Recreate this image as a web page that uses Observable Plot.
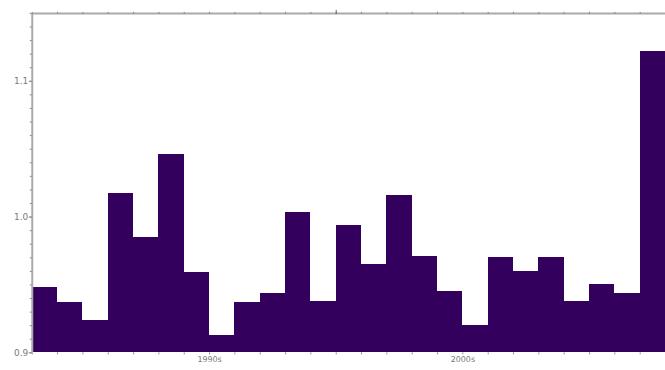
<!DOCTYPE html>
<html>
<head>
<meta charset="utf-8">
<script src="https://cdn.jsdelivr.net/npm/d3@7"></script>
<script src="https://cdn.jsdelivr.net/npm/@observablehq/plot@0.6"></script>
<style>
  html, body { margin: 0; padding: 0; background: #fff; overflow: hidden; width: 665px; height: 370px; }
  #chart svg { display: block; }
</style>
</head>
<body>
<div id="chart"></div>
<script>
const years = [1983, 1984, 1985, 1986, 1987, 1988, 1989, 1990, 1991, 1992, 1993, 1994, 1995,
               1996, 1997, 1998, 1999, 2000, 2001, 2002, 2003, 2004, 2005, 2006, 2007];
const values = [0.948, 0.937, 0.924, 1.017, 0.985, 1.046, 0.959, 0.913, 0.937, 0.944, 1.003, 0.938, 0.994,
                0.965, 1.016, 0.971, 0.945, 0.920, 0.970, 0.960, 0.970, 0.938, 0.950, 0.944, 1.122];
const yMajorTicks = [0.9, 1.0, 1.1];
const yMinorTicks = [0.9, 0.91, 0.92, 0.93, 0.94, 0.95, 0.96, 0.97, 0.98, 0.99, 1.0, 1.01, 1.02, 1.03,
                     1.04, 1.05, 1.06, 1.07, 1.08, 1.09, 1.1, 1.11, 1.12, 1.13, 1.14, 1.15];
const xLabelTicks = [1990, 2000];
const xLabels = ["1990s", "2000s"];
const xTopMajor = [1995];

const data = years.map((y, i) => ({year: y, value: values[i]}));
const yearEdges = years.concat([years[years.length - 1] + 1]);

const grey = "#aaaaaa";
const textGrey = "#777777";
const barColor = "#33005e";

const chart = Plot.plot({
  width: 670,
  height: 370,
  marginLeft: 32,
  marginRight: 0,
  marginTop: 13,
  marginBottom: 15,
  style: {fontFamily: "DejaVu Sans, sans-serif", fontSize: "8px", background: "#fff"},
  x: {domain: [1983, 2008], axis: null, label: null},
  y: {domain: [0.9, 1.15], axis: null, label: null},
  marks: [
    Plot.rect(data, {x1: "year", x2: d => d.year + 1, y1: 0.9, y2: "value",
                     fill: barColor, shapeRendering: "crispEdges"}),
    // left spine and minor ticks
    Plot.ruleX([1983], {stroke: grey, strokeWidth: 2}),
    Plot.axisY({ticks: yMinorTicks, tickSize: 2, tickFormat: () => "", stroke: "#888", label: null}),
    Plot.axisY({ticks: yMajorTicks, tickSize: 3, tickPadding: 1, tickFormat: d => d.toFixed(1),
                fill: textGrey, stroke: "#888", fontSize: 9, label: null}),
    // top spine and ticks
    Plot.ruleY([1.15], {stroke: grey, strokeWidth: 2}),
    Plot.axisX({anchor: "top", ticks: yearEdges, tickSize: 2, tickFormat: () => "", stroke: "#888", label: null}),
    Plot.axisX({anchor: "top", ticks: xTopMajor, tickSize: 4, tickFormat: () => "", stroke: "#666", label: null}),
    // bottom ticks and labels
    Plot.axisX({anchor: "bottom", ticks: yearEdges, tickSize: 2, tickFormat: () => "", stroke: "#888", label: null}),
    Plot.axisX({anchor: "bottom", ticks: xLabelTicks, tickSize: 0, tickPadding: 4,
                tickFormat: d => xLabels[xLabelTicks.indexOf(d)], fill: textGrey, fontSize: 8, label: null})
  ]
});
document.getElementById("chart").appendChild(chart);
</script>
</body>
</html>
